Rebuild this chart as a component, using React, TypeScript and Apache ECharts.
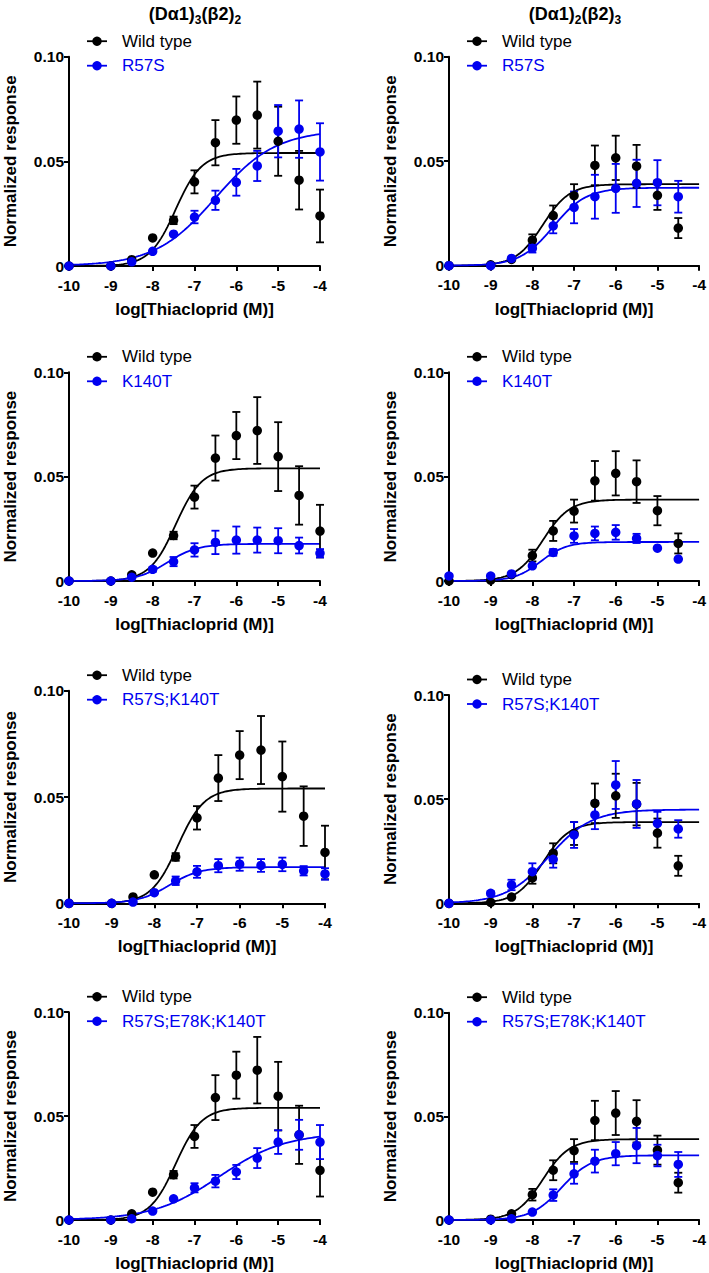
import React, { useEffect, useRef } from "react";
import * as echarts from "echarts";

const BLACK = "#000000";
const BLUE = "#0000f0";
const FONT = "'Liberation Sans', Arial, sans-serif";

// log[Thiacloprid (M)] concentrations
const xLeft = [-10, -9, -8.5, -8, -7.5, -7, -6.5, -6, -5.5, -5, -4.5, -4];
const xRight = [-10, -9, -8.5, -8, -7.5, -7, -6.5, -6, -5.5, -5, -4.5];
const xAxisMin = -10;
const xAxisMax = -4;
const yAxisMax = 0.1;

// (Dα1)3(β2)2 — left column
const wtLeftMean = [0, 0, 0.003, 0.0134, 0.0218, 0.0402, 0.0589, 0.0697, 0.0721, 0.0596, 0.041, 0.0239];
const wtLeftSem = [0, 0, 0, 0, 0.0018, 0.0055, 0.0108, 0.0113, 0.016, 0.0165, 0.014, 0.0126];
const r57sLeftMean = [0, 0, 0.002, 0.007, 0.0152, 0.0234, 0.0314, 0.04, 0.0478, 0.0644, 0.0654, 0.0545];
const r57sLeftSem = [0, 0, 0, 0, 0, 0.003, 0.0046, 0.0064, 0.0072, 0.0125, 0.0137, 0.0137];
const k140tLeftMean = [0, 0, 0.0018, 0.0056, 0.0093, 0.0149, 0.0185, 0.0196, 0.0196, 0.0193, 0.017, 0.0133];
const k140tLeftSem = [0, 0, 0, 0.0012, 0.0022, 0.0032, 0.0056, 0.0065, 0.006, 0.006, 0.0038, 0.002];
const dblLeftMean = [0, 0, 0.0006, 0.005, 0.0106, 0.0148, 0.0177, 0.0184, 0.0178, 0.0183, 0.0153, 0.0138];
const dblLeftSem = [0, 0, 0, 0, 0.002, 0.0028, 0.0031, 0.0031, 0.003, 0.0032, 0.0022, 0.0027];
const triLeftMean = [0, 0, 0.0006, 0.0043, 0.0102, 0.0155, 0.0187, 0.0231, 0.0298, 0.0375, 0.041, 0.0375];
const triLeftSem = [0, 0, 0, 0, 0, 0.0022, 0.003, 0.0034, 0.0048, 0.0057, 0.0072, 0.0082];

// (Dα1)2(β2)3 — right column
const wtRightMean = [0, 0.0004, 0.003, 0.0122, 0.024, 0.0335, 0.048, 0.0516, 0.0476, 0.0337, 0.018];
const wtRightSem = [0, 0, 0, 0.0028, 0.0048, 0.0055, 0.0095, 0.0106, 0.0102, 0.007, 0.0048];
const r57sRightMean = [0, 0, 0.0035, 0.0083, 0.0191, 0.0279, 0.033, 0.037, 0.0394, 0.0397, 0.033];
const r57sRightSem = [0, 0, 0, 0.002, 0.0036, 0.0076, 0.0105, 0.0117, 0.0113, 0.0108, 0.0076];
const k140tRightMean = [0.0024, 0.0024, 0.0034, 0.0073, 0.0137, 0.0216, 0.0228, 0.0233, 0.0204, 0.0157, 0.0105];
const k140tRightSem = [0, 0, 0, 0, 0.0016, 0.0033, 0.0033, 0.0035, 0.0022, 0, 0];
const dblRightMean = [0, 0.0048, 0.0088, 0.0152, 0.0211, 0.0328, 0.0424, 0.0568, 0.0477, 0.0384, 0.0357];
const dblRightSem = [0, 0.001, 0.0025, 0.004, 0.004, 0.0062, 0.0068, 0.0115, 0.0115, 0.0055, 0.0042];
const triRightMean = [0, 0, 0.0006, 0.0038, 0.012, 0.0223, 0.0284, 0.032, 0.0359, 0.0311, 0.0268];
const triRightSem = [0, 0, 0, 0, 0.0028, 0.0048, 0.0055, 0.0056, 0.0085, 0.0052, 0.006];

// Fitted dose-response parameters: [top, logEC50, Hill slope]
const wtLeftFit = [0.054, -7.45, 1.4];
const r57sLeftFit = [0.065, -6.5, 0.6];
const k140tLeftFit = [0.0178, -7.65, 1.2];
const dblLeftFit = [0.017, -7.65, 1.2];
const triLeftFit = [0.042, -6.4, 0.55];
const wtRightFit = [0.039, -7.75, 1.35];
const r57sRightFit = [0.0373, -7.5, 1.1];
const k140tRightFit = [0.0187, -7.8, 1.4];
const dblRightFit = [0.045, -7.6, 0.85];
const triRightFit = [0.0312, -7.3, 1.2];

const columnTitles = ["(Dα1)3(β2)2", "(Dα1)2(β2)3"];
const mutantNames = ["R57S", "K140T", "R57S;K140T", "R57S;E78K;K140T"];
const xAxisTitle = "log[Thiacloprid (M)]";
const yAxisTitle = "Normalized response";

type Panel = {
  xs: number[];
  wtMean: number[];
  wtSem: number[];
  wtFit: number[];
  mutMean: number[];
  mutSem: number[];
  mutFit: number[];
  mutName: string;
  grid: { left: number; top: number; width: number; height: number };
};

const gridBoxes = [
  { left: 69, top: 56.7, width: 251, height: 209.3 },
  { left: 449, top: 56.7, width: 251, height: 209 },
  { left: 69, top: 372.3, width: 251, height: 208.7 },
  { left: 449, top: 372.3, width: 251, height: 208.7 },
  { left: 69, top: 690.7, width: 256, height: 212.6 },
  { left: 449, top: 695, width: 252, height: 208.3 },
  { left: 69, top: 1012.2, width: 251, height: 208 },
  { left: 449, top: 1012.7, width: 251, height: 208 },
];

const leftMut = [
  [r57sLeftMean, r57sLeftSem, r57sLeftFit],
  [k140tLeftMean, k140tLeftSem, k140tLeftFit],
  [dblLeftMean, dblLeftSem, dblLeftFit],
  [triLeftMean, triLeftSem, triLeftFit],
];
const rightMut = [
  [r57sRightMean, r57sRightSem, r57sRightFit],
  [k140tRightMean, k140tRightSem, k140tRightFit],
  [dblRightMean, dblRightSem, dblRightFit],
  [triRightMean, triRightSem, triRightFit],
];

const panels: Panel[] = [];
for (let r = 0; r < 4; r++) {
  panels.push({
    xs: xLeft, wtMean: wtLeftMean, wtSem: wtLeftSem, wtFit: wtLeftFit,
    mutMean: leftMut[r][0], mutSem: leftMut[r][1], mutFit: leftMut[r][2],
    mutName: mutantNames[r], grid: gridBoxes[r * 2],
  });
  panels.push({
    xs: xRight, wtMean: wtRightMean, wtSem: wtRightSem, wtFit: wtRightFit,
    mutMean: rightMut[r][0], mutSem: rightMut[r][1], mutFit: rightMut[r][2],
    mutName: mutantNames[r], grid: gridBoxes[r * 2 + 1],
  });
}

function hillCurve(fit: number[]) {
  const [top, ec50, hill] = fit;
  const pts: number[][] = [];
  for (let i = 0; i <= 120; i++) {
    const x = xAxisMin + (i * (xAxisMax - xAxisMin)) / 120;
    pts.push([x, top / (1 + Math.pow(10, (ec50 - x) * hill))]);
  }
  return pts;
}

function errSeries(idx: number, xs: number[], mean: number[], sem: number[], color: string) {
  return {
    type: "custom",
    xAxisIndex: idx,
    yAxisIndex: idx,
    clip: false,
    z: 3,
    data: xs.map((x, i) => [x, mean[i], sem[i]]),
    encode: { x: 0, y: 1 },
    renderItem: (_p: any, api: any) => {
      const x = api.value(0);
      const y = api.value(1);
      const e = api.value(2);
      if (!e) return { type: "group", children: [] };
      const t = api.coord([x, y + e]);
      const b = api.coord([x, y - e]);
      const hw = 4;
      const st = { stroke: color, lineWidth: 1.8 };
      return {
        type: "group",
        children: [
          { type: "line", shape: { x1: t[0], y1: t[1], x2: b[0], y2: b[1] }, style: st },
          { type: "line", shape: { x1: t[0] - hw, y1: t[1], x2: t[0] + hw, y2: t[1] }, style: st },
          { type: "line", shape: { x1: b[0] - hw, y1: b[1], x2: b[0] + hw, y2: b[1] }, style: st },
        ],
      };
    },
  };
}

export default function App() {
  const ref = useRef<HTMLDivElement>(null);
  useEffect(() => {
    if (!ref.current) return;
    const chart = echarts.init(ref.current, undefined, { renderer: "svg" });
    const grids: any[] = [];
    const xAxes: any[] = [];
    const yAxes: any[] = [];
    const series: any[] = [];
    const graphics: any[] = [];
    const axisLineStyle = { color: BLACK, width: 2 };
    panels.forEach((p, i) => {
      grids.push({ ...p.grid, containLabel: false });
      xAxes.push({
        type: "value", gridIndex: i, min: xAxisMin, max: xAxisMax, interval: 1,
        axisLine: { show: true, onZero: false, lineStyle: axisLineStyle },
        axisTick: { show: true, length: 5, lineStyle: { color: BLACK, width: 2 } },
        splitLine: { show: false },
        axisLabel: { color: BLACK, fontFamily: FONT, fontWeight: "bold", fontSize: 15.5, margin: 11 },
        name: xAxisTitle, nameLocation: "middle", nameGap: 35,
        nameTextStyle: { color: BLACK, fontFamily: FONT, fontWeight: "bold", fontSize: 17 },
      });
      yAxes.push({
        type: "value", gridIndex: i, min: 0, max: yAxisMax, interval: 0.05,
        axisLine: { show: true, onZero: false, lineStyle: axisLineStyle },
        axisTick: { show: true, length: 5, lineStyle: { color: BLACK, width: 2 } },
        splitLine: { show: false },
        axisLabel: {
          color: BLACK, fontFamily: FONT, fontWeight: "bold", fontSize: 15.5, margin: 5,
          formatter: (v: number) => (v === 0 ? "0" : v.toFixed(2)),
        },
        name: yAxisTitle, nameLocation: "middle", nameGap: 50,
        nameTextStyle: { color: BLACK, fontFamily: FONT, fontWeight: "bold", fontSize: 17 },
      });
      // curves
      series.push({
        type: "line", xAxisIndex: i, yAxisIndex: i, data: hillCurve(p.wtFit), showSymbol: false,
        lineStyle: { color: BLACK, width: 1.8 }, clip: false, z: 2, silent: true,
      });
      series.push({
        type: "line", xAxisIndex: i, yAxisIndex: i, data: hillCurve(p.mutFit), showSymbol: false,
        lineStyle: { color: BLUE, width: 1.8 }, clip: false, z: 2, silent: true,
      });
      series.push(errSeries(i, p.xs, p.wtMean, p.wtSem, BLACK));
      series.push({
        type: "scatter", xAxisIndex: i, yAxisIndex: i, symbol: "circle", symbolSize: 9.5, clip: false, z: 4,
        itemStyle: { color: BLACK, opacity: 1 }, data: p.xs.map((x, k) => [x, p.wtMean[k]]),
      });
      series.push(errSeries(i, p.xs, p.mutMean, p.mutSem, BLUE));
      series.push({
        type: "scatter", xAxisIndex: i, yAxisIndex: i, symbol: "circle", symbolSize: 9.5, clip: false, z: 5,
        itemStyle: { color: BLUE, opacity: 1 }, data: p.xs.map((x, k) => [x, p.mutMean[k]]),
      });
      // legend
      const L = p.grid.left;
      const T = p.grid.top;
      const rows = [
        { y: T - 15.5, color: BLACK, label: "Wild type" },
        { y: T + 9, color: BLUE, label: p.mutName },
      ];
      rows.forEach((r) => {
        graphics.push({ type: "line", shape: { x1: L + 18, y1: r.y, x2: L + 38, y2: r.y }, style: { stroke: r.color, lineWidth: 1.8 } });
        graphics.push({ type: "circle", shape: { cx: L + 28, cy: r.y, r: 4.7 }, style: { fill: r.color } });
        graphics.push({
          type: "text", x: L + 53, y: r.y,
          style: { text: r.label, fill: r.color, font: `17px ${FONT}`, textVerticalAlign: "middle", verticalAlign: "middle" },
        });
      });
    });
    // column titles
    const titleRich = {
      a: { fontFamily: FONT, fontWeight: "bold", fontSize: 18, fill: BLACK, color: BLACK, verticalAlign: "middle", lineHeight: 24 },
      s: { fontFamily: FONT, fontWeight: "bold", fontSize: 12, fill: BLACK, color: BLACK, verticalAlign: "bottom", lineHeight: 24 },
    };
    const toRich = (t: string) => t.replace(/\)(\d)/g, "){s|$1}").replace(/^/, "{a|").replace(/\{s\|(\d)\}/g, "}{s|$1}{a|") + "}";
    [195, 575].forEach((cx, c) => {
      graphics.push({
        type: "text", x: cx, y: 14,
        style: {
          text: toRich(columnTitles[c]), rich: titleRich,
          align: "center", verticalAlign: "middle", textAlign: "center", textVerticalAlign: "middle",
        },
      });
    });
    chart.setOption({
      animation: false,
      backgroundColor: "#ffffff",
      grid: grids,
      xAxis: xAxes,
      yAxis: yAxes,
      series,
      graphic: { elements: graphics },
    });
    return () => chart.dispose();
  }, []);
  return <div ref={ref} style={{ position: "absolute", left: 0, top: 0, width: 709, height: 1273 }} />;
}
